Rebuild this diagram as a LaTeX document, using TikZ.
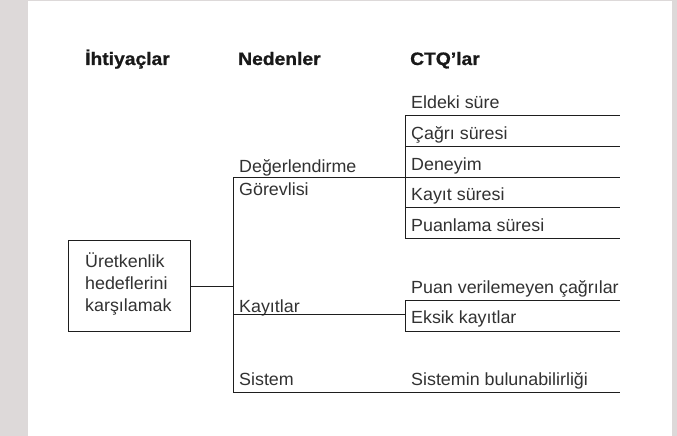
\documentclass[tikz,border=0pt]{standalone}
\usepackage{fontspec}
\setmainfont{Liberation Sans}[FakeStretch=1.015]
\newfontfamily\headfont{Liberation Sans Bold}[FakeStretch=1.07,FakeBold=1]
\definecolor{bggray}{RGB}{221,217,217}
\definecolor{txt}{RGB}{50,50,50}
\definecolor{ln}{RGB}{30,30,30}
\begin{document}
\begin{tikzpicture}[x=1pt,y=-1pt,
  lbl/.style={anchor=base west,inner sep=0pt,text=txt,font=\fontsize{17.6}{22}\selectfont},
  head/.style={anchor=base west,inner sep=0pt,text=black!90,font=\headfont\fontsize{18}{20}\selectfont},
  conn/.style={draw=ln,line width=1pt},
  needbox/.style={draw=ln,line width=1pt,minimum width=122pt,minimum height=91pt,inner sep=0pt}]
\useasboundingbox (0,0) rectangle (677,436);
\fill[bggray] (0,0) rectangle (677,436);
\fill[white] (28,1) rectangle (672,436);
% headers
\node[head] (h1) at (85,65) {İhtiyaçlar};
\node[head] (h2) at (238,65) {Nedenler};
\node[head] (h3) at (410,65) {CTQ’lar};
% need box
\node[needbox] (need) at (129,285.5) {};
\node[lbl] (n1) at (85,267) {Üretkenlik};
\node[lbl] (n2) at (85,289) {hedeflerini};
\node[lbl] (n3) at (85,311) {karşılamak};
% causes
\node[lbl] (c1a) at (239,172) {Değerlendirme};
\node[lbl] (c1b) at (239,195) {Görevlisi};
\node[lbl] (c2) at (239,312) {Kayıtlar};
\node[lbl] (c3) at (239,385) {Sistem};
% CTQs
\node[lbl] (q1) at (411,108) {Eldeki süre};
\node[lbl] (q2) at (411,139) {Çağrı süresi};
\node[lbl] (q3) at (411,170) {Deneyim};
\node[lbl] (q4) at (411,200.5) {Kayıt süresi};
\node[lbl] (q5) at (411,231) {Puanlama süresi};
\node[lbl] (q6) at (411,293) {Puan verilemeyen çağrılar};
\node[lbl] (q7) at (411,323.5) {Eksik kayıtlar};
\node[lbl] (q8) at (411,385) {Sistemin bulunabilirliği};
% junction coordinates
\coordinate (trunk) at (233,286);
\coordinate (tA) at (233,177);
\coordinate (tB) at (233,314);
\coordinate (tC) at (233,392);
\coordinate (b1top) at (405,115.7);
\coordinate (b1bot) at (405,238);
\coordinate (b2top) at (405,300);
\coordinate (b2bot) at (405,331);
\coordinate (b2mid) at (405,314);
\coordinate (e1) at (620,115.7);
\coordinate (e2) at (620,146.3);
\coordinate (e3) at (620,177);
\coordinate (e4) at (620,207.7);
\coordinate (e5) at (620,238);
\coordinate (e6) at (620,300);
\coordinate (e7) at (620,331);
\coordinate (e8) at (620,392);
% connectors
\draw[conn] (need.east |- trunk) -- (trunk);
\draw[conn] (tA) -- (tC);
\draw[conn] (tA) -- (e3);
\draw[conn] (b1top) -- (b1bot);
\draw[conn] (b1top) -- (e1);
\draw[conn] (b1top |- e2) -- (e2);
\draw[conn] (b1top |- e4) -- (e4);
\draw[conn] (b1bot) -- (e5);
\draw[conn] (tB) -- (b2mid);
\draw[conn] (b2top) -- (b2bot);
\draw[conn] (b2top) -- (e6);
\draw[conn] (b2bot) -- (e7);
\draw[conn] (tC) -- (e8);
\end{tikzpicture}
\end{document}
